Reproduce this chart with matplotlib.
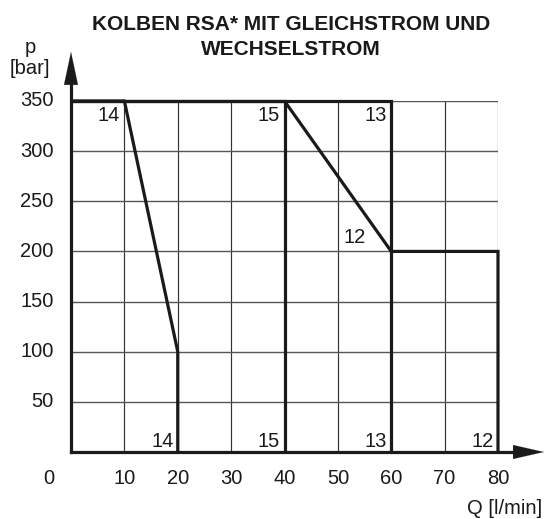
import matplotlib
matplotlib.use("Agg")
import matplotlib.pyplot as plt

plt.rcParams['font.family'] = ['Liberation Sans', 'DejaVu Sans']

title = "KOLBEN RSA* MIT GLEICHSTROM UND\nWECHSELSTROM"
x_label = "Q [l/min]"
y_label = "p\n[bar]"
x_ticks = [0, 10, 20, 30, 40, 50, 60, 70, 80]
y_ticks = [50, 100, 150, 200, 250, 300, 350]

curve_names = ["14", "15", "13", "12"]
q14 = [0, 10, 20, 20]
p14 = [350, 350, 100, 0]
q15 = [0, 40, 40]
p15 = [350, 350, 0]
q13 = [0, 60, 60]
p13 = [350, 350, 0]
q12 = [40, 60, 80, 80]
p12 = [350, 200, 200, 0]

fig = plt.figure(figsize=(5.44, 5.19), dpi=100)
ax = fig.add_axes([71/544, (519-452)/519, 427/544, 351/519])
ax.set_xlim(0, 80)
ax.set_ylim(0, 350)
for s in ax.spines.values():
    s.set_visible(False)
ax.set_xticks([])
ax.set_yticks([])

xmax, ymax = max(x_ticks), max(y_ticks)
# grid
ax.vlines(x_ticks[1:], 0, ymax, colors='#333333', linewidth=0.85, zorder=1)
ax.hlines(y_ticks, 0, xmax, colors='#555555', linewidth=1.0, zorder=1)

lw = 2.3
col = '#1a1a1a'
for q, p in [(q14, p14), (q15, p15), (q13, p13), (q12, p12)]:
    ax.plot(q, p, color=col, linewidth=lw, solid_joinstyle='miter',
            solid_capstyle='butt', zorder=3, clip_on=False)

# axes with arrows
ax.plot([0, 0], [0, 368], color=col, linewidth=lw, clip_on=False, zorder=4)
ax.plot([0, 83.5], [0, 0], color=col, linewidth=lw, clip_on=False, zorder=4)
ax.annotate('', xy=(0, 399), xytext=(0, 366), annotation_clip=False,
            arrowprops=dict(arrowstyle='-|>,head_length=2.35,head_width=0.5',
                            color=col, lw=0.1, shrinkA=0, shrinkB=0))
ax.annotate('', xy=(88.6, 0), xytext=(82.8, 0), annotation_clip=False,
            arrowprops=dict(arrowstyle='-|>,head_length=2.2,head_width=0.5',
                            color=col, lw=0.1, shrinkA=0, shrinkB=0))

fs = 14.5
# tick labels
for v in y_ticks:
    ax.text(-3.3, v, str(v), ha='right', va='center', fontsize=fs, color=col)
for v in x_ticks:
    xv = v if v > 0 else -4.2
    ax.text(xv, -26.5, str(v), ha='center', va='center', fontsize=fs, color=col)

# curve labels at top corners
top_pts = [(q14[1], p14[1]), (q15[1], p15[1]), (q13[1], p13[1])]
for name, (qx, py) in zip(curve_names[:3], top_pts):
    ax.text(qx - 0.8, py - 14, name, ha='right', va='center', fontsize=fs, color=col)
ax.text(q12[1] - 4.8, p12[1] + 14, curve_names[3], ha='right', va='center', fontsize=fs, color=col)
# bottom labels
bottom_x = [q14[-1], q15[-1], q13[-1], q12[-1]]
for name, qx in zip(curve_names, bottom_x):
    ax.text(qx - 0.8, 10, name, ha='right', va='center', fontsize=fs, color=col)

# axis labels
fig.text(30/544, 1 - 58/519, y_label, ha='center', va='center', fontsize=fs,
         color=col, linespacing=1.15)
fig.text(542/544, 1 - 508/519, x_label, ha='right', va='center', fontsize=fs, color=col)
fig.text(291/544, 1 - 37/519, title, ha='center', va='center', fontsize=15,
         fontweight='bold', color=col, linespacing=1.42)

fig.savefig("out.png", dpi=100)
